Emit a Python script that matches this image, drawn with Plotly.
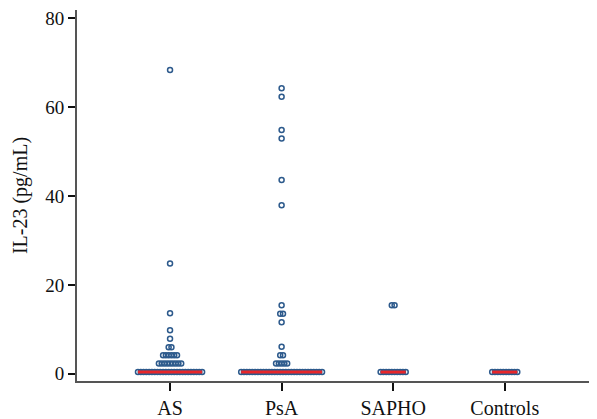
import plotly.graph_objects as go
import numpy as np

categories = ["AS", "PsA", "SAPHO", "Controls"]

as_values = [68.3, 24.8, 13.6, 9.8, 7.9, 6.0, 6.0,
             4.2, 4.2, 4.2, 4.2, 4.2, 4.2,
             2.3, 2.3, 2.3, 2.3, 2.3, 2.3, 2.3, 2.3, 2.3,
             0.4, 0.4, 0.4, 0.4, 0.4, 0.4, 0.4, 0.4, 0.4, 0.4, 0.4, 0.4,
             0.4, 0.4, 0.4, 0.4, 0.4, 0.4, 0.4, 0.4, 0.4, 0.4, 0.4, 0.4]
psa_values = [64.2, 62.3, 54.8, 52.9, 43.6, 37.9, 15.4, 13.5, 13.5, 11.6,
              6.1, 4.2, 4.2,
              2.3, 2.3, 2.3, 2.3, 2.3,
              0.4, 0.4, 0.4, 0.4, 0.4, 0.4, 0.4, 0.4, 0.4, 0.4,
              0.4, 0.4, 0.4, 0.4, 0.4, 0.4, 0.4, 0.4, 0.4, 0.4,
              0.4, 0.4, 0.4, 0.4, 0.4, 0.4, 0.4, 0.4, 0.4, 0.4]
sapho_values = [15.4, 15.4,
                0.4, 0.4, 0.4, 0.4, 0.4, 0.4, 0.4, 0.4, 0.4, 0.4]
controls_values = [0.4, 0.4, 0.4, 0.4, 0.4, 0.4, 0.4, 0.4, 0.4, 0.4]

groups = [as_values, psa_values, sapho_values, controls_values]

y_ticks = [0, 20, 40, 60, 80]
y_title = "IL-23 (pg/mL)"

SPACING = 0.025
BLUE = "#2d5a8c"
RED = "#e8262a"
FONT = "Liberation Serif"

fig = go.Figure()

for gi, vals in enumerate(groups):
    xs, ys = [], []
    uniq = sorted(set(vals))
    for v in uniq:
        n = vals.count(v)
        for i in range(n):
            xs.append(gi + (i - (n - 1) / 2) * SPACING)
            ys.append(v)
    fig.add_trace(go.Scatter(
        x=xs, y=ys, mode="markers",
        marker=dict(symbol="circle-open", size=5, color=BLUE,
                    line=dict(width=1.5, color=BLUE)),
        showlegend=False, hoverinfo="y"))
    med = float(np.median(vals))
    n_med = vals.count(med) if med in vals else 1
    half = (n_med - 1) / 2 * SPACING
    fig.add_trace(go.Scatter(
        x=[gi - half, gi + half], y=[med, med], mode="lines",
        line=dict(color=RED, width=3), showlegend=False, hoverinfo="skip"))

# page body adds an 8px margin; the figure is sized to fit the window
fig.update_layout(
    width=589, height=411,
    margin=dict(l=69, r=0, t=1, b=37),
    paper_bgcolor="white", plot_bgcolor="white",
    font=dict(family=FONT, size=20, color="#111"),
    xaxis=dict(
        range=[-0.834, 3.827],
        tickmode="array", tickvals=list(range(len(categories))), ticktext=categories,
        showline=True, linecolor="#555", linewidth=2,
        ticks="outside", ticklen=8, tickwidth=2, tickcolor="#111",
        showgrid=False, zeroline=False,
        tickfont=dict(family=FONT, size=20, color="#111"),
    ),
    yaxis=dict(
        range=[-1.61, 81.8],
        tickmode="array", tickvals=y_ticks,
        showline=True, linecolor="#555", linewidth=2,
        ticks="outside", ticklen=7, tickwidth=2, tickcolor="#111",
        showgrid=False, zeroline=False,
        ticklabeloverflow="allow",
        title=dict(text=y_title, font=dict(family=FONT, size=20, color="#111"), standoff=12),
        tickfont=dict(family=FONT, size=19, color="#111"),
    ),
)

fig.write_html("out.html")
